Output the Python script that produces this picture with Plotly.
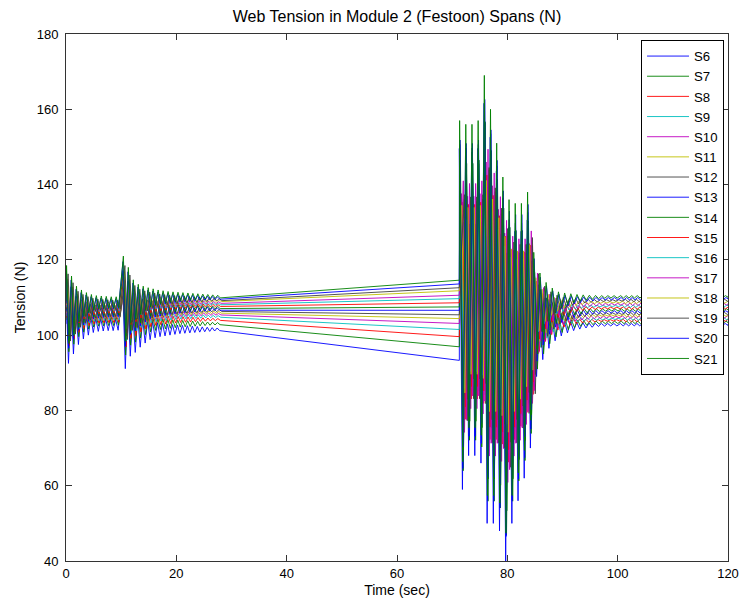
import plotly.graph_objects as go

# ---------------- data ----------------
SERIES = ["S6", "S7", "S8", "S9", "S10", "S11", "S12", "S13",
          "S14", "S15", "S16", "S17", "S18", "S19", "S20", "S21"]
MATLAB_ORDER = ["#0000ff", "#008000", "#ff0000", "#00bfbf",
                "#bf00bf", "#bfbf00", "#404040"]

# mean tension level of each span (N) in the different phases
LEVEL_EARLY = [103.0, 104.0, 104.6, 105.1, 105.5, 105.9, 106.2, 106.5,
               106.8, 107.1, 107.4, 107.7, 108.0, 108.3, 108.6, 109.0]
LEVEL_T28 = [101.6, 103.1, 104.2, 105.0, 105.6, 106.1, 106.6, 107.0,
             107.4, 107.9, 108.3, 108.7, 109.2, 109.5, 109.9, 110.3]
LEVEL_T71 = [93.3, 96.9, 99.6, 101.5, 103.1, 104.4, 105.4, 106.6,
             107.5, 108.6, 109.7, 110.6, 111.8, 112.6, 113.6, 114.6]
LEVEL_LATE = [102.9, 103.5, 104.0, 104.4, 104.9, 105.3, 105.8, 106.3,
              106.8, 107.3, 107.8, 108.3, 108.8, 109.3, 109.8, 110.3]

# relative swing size and time lag (s) of each span
GAIN_AB = [1.0, 0.8, 0.7, 0.62, 0.58, 0.66, 0.74, 0.95,
           0.86, 0.7, 0.6, 0.64, 0.72, 0.84, 0.9, 1.0]
LAG_AB = [0.0, 0.06, 0.12, 0.18, 0.24, 0.30, 0.36, 0.02,
          0.08, 0.14, 0.20, 0.26, 0.32, 0.38, 0.04, 0.10]
GAIN_C = [1.0, 0.9, 0.6, 0.55, 0.7, 0.5, 0.65, 0.95,
          0.85, 0.6, 0.5, 0.7, 0.55, 0.6, 0.9, 1.0]
LAG_C = [0.00, 0.15, 0.50, 0.78, 0.38, 0.65, 0.88, 0.08,
         0.20, 0.55, 0.30, 0.72, 0.43, 0.92, 0.12, 0.05]

# start-up transient (t = 0 s), swing per cycle above / below the mean (N)
A_START, A_PERIOD = 0.0, 0.9
A_UP = [9.5, 6.7, 4.0, 3.0, 2.3, 1.8, 1.5, 1.4, 1.3, 1.2, 1.2]
A_DOWN = [10.5, 8.0, 5.5, 4.0, 3.0, 2.3, 2.0, 1.9, 1.8, 1.8, 1.7]

# speed change transient (t = 10.3 s)
B_START, B_PERIOD = 10.3, 0.9
B_UP = [10.7, 7.7, 4.4, 3.2, 2.7, 2.3, 2.0, 1.7, 1.5, 1.3,
        1.2, 1.1, 1.0, 0.9, 0.8, 0.7, 0.6, 0.5, 0.4, 0.3]
B_DOWN = [10.5, 7.2, 6.2, 4.8, 3.7, 2.8, 2.3, 2.0, 1.8, 1.6,
          1.4, 1.2, 1.1, 1.0, 0.9, 0.8, 0.7, 0.6, 0.5, 0.4]

# festoon disturbance (t = 71.3 s)
C_START, C_PERIOD = 71.3, 1.12
C_UP = [46.7, 45.7, 45.7, 46.7, 58.7, 49.7, 40.7, 31.7, 25.7, 24.7,
        24.7, 27.7, 11.7, 6.2, 3.7, 2.2, 1.2, 0.9, 0.7, 0.5,
        0.4, 0.3, 0.25, 0.2, 0.2, 0.2]
C_DOWN = [43.9, 34.9, 34.9, 36.9, 52.9, 52.9, 54.9, 62.9, 52.9, 46.9,
          40.9, 32.9, 13.9, 9.4, 6.4, 4.4, 3.1, 2.3, 1.7, 1.3,
          1.0, 0.8, 0.6, 0.5, 0.45, 0.45]

# residual ripple after t = 100 s
D_START, D_PERIOD = 100.5, 1.0
D_UP = [0.2, 0.2, 0.2, 0.2, 0.2, 0.2, 0.2, 0.2, 0.2, 0.2,
        0.2, 0.2, 0.2, 0.2, 0.2, 0.2, 0.2, 0.2, 0.2, 0.2]
D_DOWN = [0.45, 0.44, 0.43, 0.42, 0.41, 0.40, 0.39, 0.38, 0.37, 0.36,
          0.36, 0.35, 0.35, 0.34, 0.33, 0.33, 0.32, 0.31, 0.31, 0.30]

T_RAMP_END = 71.3
T_END = 120.0


def add_cycles(xs, ys, start, period, ups, downs, level, gain, lag):
    for j in range(len(ups)):
        t = start + j * period + lag
        xs.extend([t, t + period / 2])
        ys.extend([level + gain * ups[j], level - gain * downs[j]])


def build(k):
    xs, ys = [0.0], [LEVEL_EARLY[k]]
    add_cycles(xs, ys, A_START, A_PERIOD, A_UP, A_DOWN,
               LEVEL_EARLY[k], GAIN_AB[k], LAG_AB[k])
    add_cycles(xs, ys, B_START, B_PERIOD, B_UP, B_DOWN,
               LEVEL_T28[k], GAIN_AB[k], LAG_AB[k])
    xs.append(T_RAMP_END)
    ys.append(LEVEL_T71[k])
    add_cycles(xs, ys, C_START, C_PERIOD, C_UP, C_DOWN,
               LEVEL_LATE[k], GAIN_C[k], LAG_C[k])
    add_cycles(xs, ys, D_START, D_PERIOD, D_UP, D_DOWN,
               LEVEL_LATE[k], 1.0, LAG_C[k])
    xs.append(T_END)
    ys.append(LEVEL_LATE[k])
    return xs, ys


fig = go.Figure()
for k, name in enumerate(SERIES):
    xs, ys = build(k)
    fig.add_trace(go.Scatter(
        x=xs, y=ys, mode="lines", name=name,
        line=dict(color=MATLAB_ORDER[k % len(MATLAB_ORDER)], width=0.9),
    ))

FONT = "Liberation Sans, Arial, Helvetica, sans-serif"
axis_common = dict(
    showgrid=False, zeroline=False, showline=True, linecolor="#333333",
    linewidth=1, mirror="ticks", ticks="inside", ticklen=6,
    tickcolor="#333333", tickfont=dict(family=FONT, size=13, color="black"),
)

fig.update_layout(
    width=751, height=607,
    margin=dict(l=66, r=16, t=34, b=45),
    paper_bgcolor="white", plot_bgcolor="white",
    font=dict(family=FONT, size=13, color="black"),
    title=dict(text="Web Tension in Module 2 (Festoon) Spans (N)",
               x=0.5, xref="paper", xanchor="center",
               y=1 - 16 / 607, yref="container", yanchor="middle",
               font=dict(family=FONT, size=16, color="black")),
    xaxis=dict(range=[0, 120], tickvals=[0, 20, 40, 60, 80, 100, 120],
               title=dict(text="Time (sec)", standoff=5,
                          font=dict(family=FONT, size=14)),
               **axis_common),
    yaxis=dict(range=[40, 180], tickvals=[40, 60, 80, 100, 120, 140, 160, 180],
               title=dict(text="Tension (N)", standoff=7,
                          font=dict(family=FONT, size=14)),
               ticklabelstandoff=4,
               **axis_common),
    legend=dict(x=(731 - 66) / 669, xanchor="right",
                y=(562 - 40) / 528, yanchor="top",
                bgcolor="white", bordercolor="black", borderwidth=1,
                font=dict(family=FONT, size=13.2, color="black"),
                itemwidth=42, tracegroupgap=0),
    showlegend=True,
)

fig.write_html("out.html")
